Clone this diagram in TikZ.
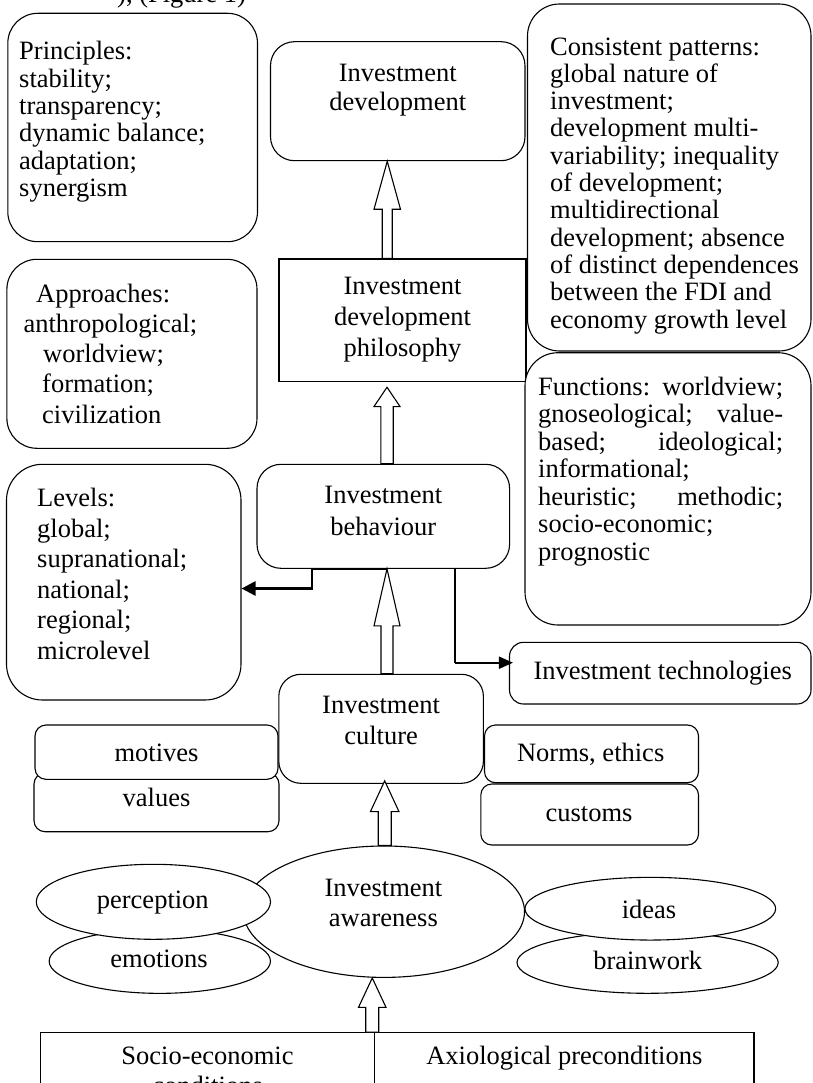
\documentclass[tikz,border=0pt]{standalone}
\usepackage{fontspec}
\setmainfont{Liberation Serif}
\usetikzlibrary{arrows.meta,shapes.geometric,calc}
\newcommand\blockarrow[6]{%
  \draw[hollowarr] let \p1=(#5), \p2=(#6) in
    (#1pt-#3pt,\y1) -- (#1pt-#3pt,\y2-#4pt) -- (#1pt-#2pt,\y2-#4pt) -- (#1pt,\y2)
    -- (#1pt+#2pt,\y2-#4pt) -- (#1pt+#3pt,\y2-#4pt) -- (#1pt+#3pt,\y1) -- cycle;}
\begin{document}
\begin{tikzpicture}[x=1pt,y=-1pt,
  sqbox/.style={draw, line width=1.1pt, fill=white, inner sep=0pt},
  rbox/.style={sqbox, rounded corners=#1},
  ebox/.style={draw, line width=1.1pt, fill=white, inner sep=0pt, ellipse},
  fsz/.style={font=\fontsize{26.5}{#1}\selectfont},
  txtl/.style={inner sep=0pt, anchor=base west, align=left, fsz=#1},
  txtc/.style={inner sep=0pt, anchor=base, align=center, fsz=#1},
  hollowarr/.style={draw, line width=1.1pt, fill=white, line join=miter},
  conn/.style={line width=1.3pt},
  thickconn/.style={line width=2.7pt, -{Triangle[length=14pt,width=14pt]}},
]
\useasboundingbox (0,0) rectangle (812,1083);
\clip (0,0) rectangle (812,1083);

% clipped caption fragment at the top (anchors: last-line baselines)
\node[txtl=27.3] (cap) at (117,3) {), (Figure 1)};

% top row
\node[rbox=30pt, minimum width=249.7pt, minimum height=228.4pt] (princ) at (132.65,127.5) {};
\node[txtl=27.3] (princt) at (19,196.5) {Principles:\\stability;\\transparency;\\dynamic balance;\\adaptation;\\synergism};

\node[rbox=32pt, minimum width=283.5pt, minimum height=347pt] (patt) at (669.25,177.5) {};
\node[txtl=27.3] (pattt) at (550,328) {Consistent patterns:\\global nature of\\investment;\\development multi-\\variability; inequality\\of development;\\multidirectional\\development; absence\\of distinct dependences\\between the FDI and\\economy growth level};

\node[rbox=24pt, minimum width=254.5pt, minimum height=119pt] (dev) at (397.75,101.2) {};
\node[txtc=29] (devt) at (397.75,111) {Investment\\development};

% second row
\node[rbox=30pt, minimum width=250.1pt, minimum height=189pt] (appr) at (131.95,353.8) {};
\node[txtl=30.3] (apprt) at (23.4,423.2) {\hspace*{12.6pt}Approaches:\\anthropological;\\\hspace*{19.6pt}worldview;\\\hspace*{18.6pt}formation;\\\hspace*{18.6pt}civilization};

\node[sqbox, minimum width=247pt, minimum height=122.7pt] (phil) at (402.5,320.35) {};
\node[txtc=31] (philt) at (402.5,356) {Investment\\development\\philosophy};

\node[rbox=33pt, minimum width=286pt, minimum height=272.3pt] (func) at (668,488.85) {};
\node[txtl=27.5] (funct) at (538,560) {\makebox[245pt][s]{Functions: worldview;}\\\makebox[245pt][s]{gnoseological; value-}\\\makebox[245pt][s]{based; ideological;}\\informational;\\\makebox[245pt][s]{heuristic; methodic;}\\socio-economic;\\prognostic};

% third row
\node[rbox=36pt, minimum width=234.5pt, minimum height=235.7pt] (levels) at (123.75,582.15) {};
\node[txtl=30.5] (levelst) at (37,659.2) {Levels:\\global;\\supranational;\\national;\\regional;\\microlevel};

\node[rbox=24pt, minimum width=252.6pt, minimum height=104pt] (beh) at (383.3,516.3) {};
\node[txtc=32] (beht) at (383.3,535) {Investment\\behaviour};

\node[rbox=14pt, minimum width=301.5pt, minimum height=61.7pt] (tech) at (660.25,673.15) {};
\node[txtc=27.3] (techt) at (662.7,679) {Investment technologies};

% culture row
\node[rbox=11pt, minimum width=245pt, minimum height=58.7pt] (values) at (156.5,802.35) {};
\node[txtc=27.3] (valuest) at (156.5,806) {values};
\node[rbox=11pt, minimum width=243pt, minimum height=54.3pt] (motives) at (156.5,752.15) {};
\node[txtc=27.3] (motivest) at (156.5,761.7) {motives};

\node[rbox=22pt, minimum width=204.6pt, minimum height=109pt] (cult) at (381.1,728.8) {};
\node[txtc=30.7] (cultt) at (381.1,744) {Investment\\culture};

\node[rbox=11pt, minimum width=217.7pt, minimum height=61pt] (customs) at (589.65,814.5) {};
\node[txtc=27.3] (customst) at (589,821) {customs};
\node[rbox=11pt, minimum width=214pt, minimum height=57.7pt] (norms) at (591.5,753.85) {};
\node[txtc=27.3] (normst) at (590.7,761.7) {Norms, ethics};

% awareness row
\node[ebox, minimum width=221.3pt, minimum height=64.3pt] (emot) at (159.8,961.2) {};
\node[txtc=27.3] (emott) at (159,967.7) {emotions};
\node[ebox, minimum width=281pt, minimum height=131.4pt] (aware) at (384,911.7) {};
\node[txtc=29.3] (awaret) at (383.4,926) {Investment\\awareness};
\node[ebox, minimum width=234.2pt, minimum height=75pt] (perc) at (153.4,901.8) {};
\node[txtc=27.3] (perct) at (152.8,908.3) {perception};

\node[ebox, minimum width=261.2pt, minimum height=61.6pt] (brain) at (647.6,962.5) {};
\node[txtc=27.3] (braint) at (647.7,969.3) {brainwork};
\node[ebox, minimum width=250.7pt, minimum height=62.7pt] (ideas) at (650.3,908.7) {};
\node[txtc=27.3] (ideast) at (649,918.3) {ideas};

% bottom row
\node[sqbox, minimum width=334.2pt, minimum height=87.3pt] (socio) at (207.5,1076.35) {};
\node[txtc=30] (sociot) at (207.5,1094) {Socio-economic\\conditions};
\node[sqbox, minimum width=379.4pt, minimum height=87.3pt] (axio) at (564.3,1076.35) {};
\node[txtc=27.3] (axiot) at (564.3,1064) {Axiological preconditions};

% hollow arrows
\blockarrow{387.25}{13.25}{5}{48}{phil.north}{dev.south}
\blockarrow{387}{13}{6.2}{19.3}{beh.north}{[yshift=-5pt]phil.south}
\blockarrow{387}{13}{6}{57}{cult.north}{beh.south}
\blockarrow{384.7}{14.25}{6.5}{30.7}{aware.north}{[yshift=3pt]cult.south}
\blockarrow{372.25}{13.75}{6.5}{29.4}{socio.north}{aware.south}

% connectors
\coordinate (bend) at (312,588.5);
\draw[thickconn] ([xshift=3.7pt]beh.south) -| (bend) -- (bend -| levels.east);
\coordinate (tcorner) at (455,662.7);
\draw[conn] ([xshift=71.7pt]beh.south) -- (tcorner);
\draw[line width=2pt, -{Triangle[length=14pt,width=12pt]}] (tcorner) -- ([xshift=4pt]tcorner -| tech.west);
\end{tikzpicture}
\end{document}
